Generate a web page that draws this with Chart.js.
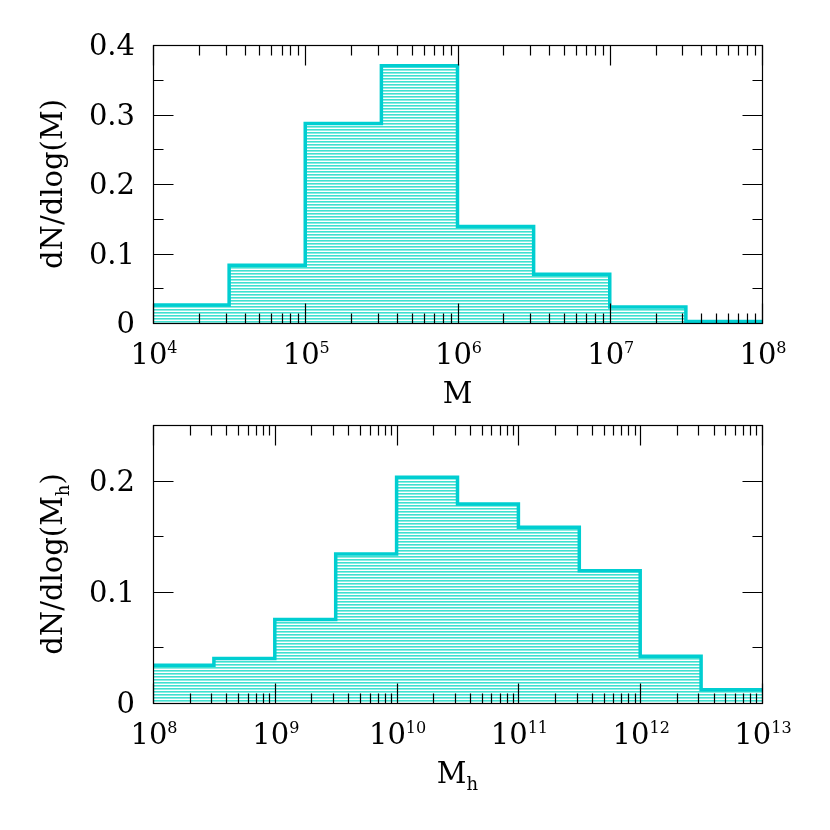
<!DOCTYPE html>
<html>
<head>
<meta charset="utf-8">
<script src="https://cdn.jsdelivr.net/npm/chart.js@4"></script>
<style>
  html, body { margin: 0; padding: 0; background: #fff; }
  .wrap { position: absolute; left: 0; width: 830px; height: 415px; }
  canvas { display: block; }
</style>
</head>
<body>
<div class="wrap" style="top:0"><canvas id="starChart" width="830" height="415"></canvas></div>
<div class="wrap" style="top:415px"><canvas id="haloChart" width="830" height="415"></canvas></div>
<script>
// bin edges (log10 of mass) and histogram heights
const starEdgesLog = [4, 4.5, 5, 5.5, 6, 6.5, 7, 7.5, 8];
const starValues = [0.026, 0.083, 0.287, 0.370, 0.139, 0.070, 0.023, 0.002];
const starYTicks = [0, 0.1, 0.2, 0.3, 0.4];
const starXDecades = [4, 5, 6, 7, 8];

const haloEdgesLog = [8, 8.5, 9, 9.5, 10, 10.5, 11, 11.5, 12, 12.5, 13];
const haloValues = [0.034, 0.040, 0.075, 0.134, 0.203, 0.179, 0.158, 0.119, 0.042, 0.012];
const haloYTicks = [0, 0.1, 0.2];
const haloXDecades = [8, 9, 10, 11, 12, 13];

const FONT = '"DejaVu Serif", "Liberation Serif", serif';
const LINE = '#00CED1';
const HATCH = '#40E0D0';

function hatchPattern() {
  const c = document.createElement('canvas');
  c.width = 4; c.height = 3;
  const g = c.getContext('2d');
  g.fillStyle = HATCH;
  g.fillRect(0, 0, 4, 1);
  g.fillStyle = 'rgba(64,224,208,0.6)';
  g.fillRect(0, 1, 4, 1);
  return g.createPattern(c, 'repeat');
}

// histogram as a stepped line: one point per bin start, plus the closing edge
function stepPoints(edgesLog, values) {
  const pts = values.map((v, i) => ({ x: Math.pow(10, edgesLog[i]), y: v }));
  pts.push({ x: Math.pow(10, edgesLog[edgesLog.length - 1]), y: values[values.length - 1] });
  return pts;
}

// draw a run of text pieces (with sub/superscripts) centred on x
function drawParts(ctx, parts, x, y, align) {
  let total = 0;
  parts.forEach(p => { ctx.font = p.size + 'px ' + FONT; p.w = ctx.measureText(p.t).width; total += p.w; });
  let cx = align === 'right' ? x - total : x - total / 2;
  ctx.textAlign = 'left';
  ctx.textBaseline = 'alphabetic';
  parts.forEach(p => {
    ctx.font = p.size + 'px ' + FONT;
    ctx.fillText(p.t, cx, y + (p.dy || 0));
    cx += p.w;
  });
}

const framePlugin = {
  id: 'smFrame',
  afterDatasetsDraw(chart, args, opts) {
    const ctx = chart.ctx;
    const a = chart.chartArea;
    const xs = chart.scales.x, ys = chart.scales.y;
    ctx.save();
    ctx.strokeStyle = '#000';
    ctx.fillStyle = '#000';
    ctx.lineWidth = 1.2;
    const L = Math.round(a.left) + 0.5, R = Math.round(a.right) + 0.5;
    const T = Math.round(a.top) + 0.5, B = Math.round(a.bottom) + 0.5;
    ctx.strokeRect(L, T, R - L, B - T);

    ctx.beginPath();
    // x ticks on bottom and top, inward
    opts.decades.forEach((d, i) => {
      const px = Math.round(xs.getPixelForValue(Math.pow(10, d))) + 0.5;
      ctx.moveTo(px, B); ctx.lineTo(px, B - 20);
      ctx.moveTo(px, T); ctx.lineTo(px, T + 20);
      if (i < opts.decades.length - 1) {
        for (let k = 2; k <= 9; k++) {
          const mx = Math.round(xs.getPixelForValue(k * Math.pow(10, d))) + 0.5;
          ctx.moveTo(mx, B); ctx.lineTo(mx, B - 10);
          ctx.moveTo(mx, T); ctx.lineTo(mx, T + 10);
        }
      }
    });
    // y ticks on left and right, inward
    const yMax = ys.max;
    for (let v = 0; v <= yMax + 1e-9; v += 0.05) {
      const py = Math.round(ys.getPixelForValue(v)) + 0.5;
      const major = Math.abs(v / 0.1 - Math.round(v / 0.1)) < 1e-6;
      const len = major ? 20 : 10;
      ctx.moveTo(L, py); ctx.lineTo(L + len, py);
      ctx.moveTo(R, py); ctx.lineTo(R - len, py);
    }
    ctx.stroke();

    // y tick labels
    opts.yTicks.forEach(v => {
      const py = ys.getPixelForValue(v);
      drawParts(ctx, [{ t: String(v), size: 29 }], a.left - 18, py + 10, 'right');
    });
    // x tick labels 10^n
    opts.decades.forEach(d => {
      const px = xs.getPixelForValue(Math.pow(10, d));
      drawParts(ctx, [{ t: '10', size: 29 }, { t: String(d), size: 16, dy: -11 }], px + 1, a.bottom + 41, 'center');
    });
    // axis titles
    drawParts(ctx, opts.xTitle, (a.left + a.right) / 2, a.bottom + 80, 'center');
    ctx.save();
    ctx.translate(a.left - 91, (a.top + a.bottom) / 2);
    ctx.rotate(-Math.PI / 2);
    drawParts(ctx, opts.yTitle, 0, 0, 'center');
    ctx.restore();
    ctx.restore();
  }
};

function makeChart(id, edgesLog, values, yMax, padding, frameOpts) {
  const ctx = document.getElementById(id).getContext('2d');
  return new Chart(ctx, {
    type: 'line',
    data: {
      datasets: [{
        data: stepPoints(edgesLog, values),
        stepped: true,
        borderColor: LINE,
        borderWidth: 3.5,
        backgroundColor: hatchPattern(),
        fill: 'origin',
        pointRadius: 0,
        tension: 0
      }]
    },
    options: {
      responsive: false,
      animation: false,
      events: [],
      layout: { padding: padding },
      scales: {
        x: {
          type: 'logarithmic',
          min: Math.pow(10, edgesLog[0]),
          max: Math.pow(10, edgesLog[edgesLog.length - 1]),
          display: false
        },
        y: {
          type: 'linear',
          min: 0,
          max: yMax,
          display: false
        }
      },
      plugins: {
        legend: { display: false },
        tooltip: { enabled: false },
        smFrame: frameOpts
      }
    },
    plugins: [framePlugin]
  });
}

makeChart('starChart', starEdgesLog, starValues, 0.4,
  { left: 153, right: 68, top: 45, bottom: 92 },
  {
    decades: starXDecades,
    yTicks: starYTicks,
    xTitle: [{ t: 'M', size: 29 }],
    yTitle: [{ t: 'dN/dlog(M)', size: 29 }]
  });

makeChart('haloChart', haloEdgesLog, haloValues, 0.25,
  { left: 153, right: 68, top: 10, bottom: 127 },
  {
    decades: haloXDecades,
    yTicks: haloYTicks,
    xTitle: [{ t: 'M', size: 29 }, { t: 'h', size: 18, dy: 7 }],
    yTitle: [{ t: 'dN/dlog(M', size: 29 }, { t: 'h', size: 18, dy: 7 }, { t: ')', size: 29 }]
  });
</script>
</body>
</html>
